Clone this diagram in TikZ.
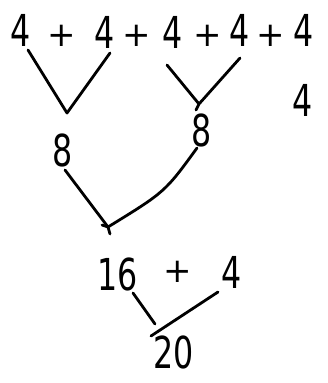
\documentclass[tikz,border=0pt]{standalone}
\usepackage{fontspec}
\setmainfont{DejaVu Sans}
\begin{document}
\begin{tikzpicture}[x=1pt,y=-1pt,
  dig/.style={inner sep=0pt,font=\fontsize{44}{44}\selectfont},
  pls/.style={inner sep=0pt,font=\fontsize{34}{34}\selectfont},
  stroke/.style={line width=2.8pt,line cap=round,line join=round}]
\newcommand{\nar}[1]{\scalebox{0.72}[1]{#1}}
\useasboundingbox (0,0) rectangle (327,383);
% top row
\node[dig] (a1) at (21,30) {\nar{4}};
\node[pls] (p1) at (62,36) {+};
\node[dig] (a2) at (105,32) {\nar{4}};
\node[pls] (p2) at (137,36) {+};
\node[dig] (a3) at (173,32) {\nar{4}};
\node[pls] (p3) at (208,36) {+};
\node[dig] (a4) at (240,30) {\nar{4}};
\node[pls] (p4) at (271,36) {+};
\node[dig] (a5) at (304,30) {\nar{4}};
\node[dig] (r4) at (303,100) {\nar{4}};
% first level
\node[dig] (e1) at (63,150) {\nar{8}};
\node[dig] (e2) at (202,130) {\nar{8}};
% second level
\node[dig] (s16) at (118,274) {\nar{16}};
\node[pls] (sp) at (178,272) {+};
\node[dig] (s4) at (232,272) {\nar{4}};
\node[dig] (t20) at (174,352) {\nar{20}};
% junction points
\coordinate (v1) at (67,113);
\coordinate (v2) at (199,104);
\coordinate (v3) at (108,227);
\coordinate (c1) at (133,293);
\coordinate (c2) at (155,324);
\coordinate (d1) at (218,292);
\coordinate (d2) at (151,336);
% connectors
\draw[stroke] (28,50) -- (v1) -- (110,53);
\draw[stroke] (167,65) -- (v2);
\draw[stroke] (240,58) -- (v2) -- ++(-3,6);
\draw[stroke] (65,170) -- (v3);
\draw[stroke] (197,148) .. controls (165,192) .. (v3) -- ++(-6,-2);
\draw[stroke] (v3) -- ++(2,7);
\draw[stroke] (c1) -- (c2);
\draw[stroke] (d1) -- (d2);
\end{tikzpicture}
\end{document}
